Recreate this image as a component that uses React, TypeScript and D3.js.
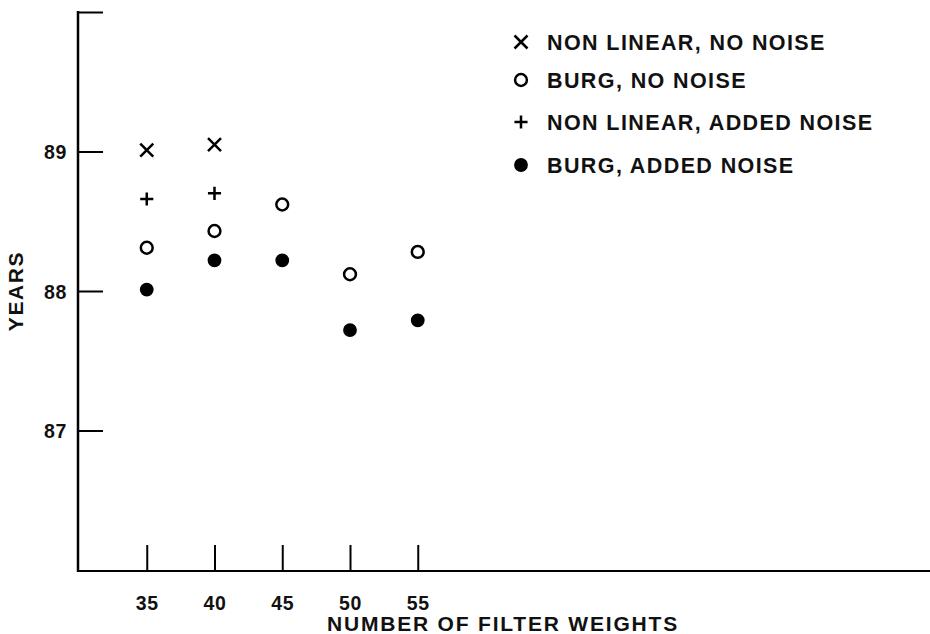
import React, { useEffect, useRef } from "react";
import * as d3 from "d3";

// filter weights on the x axis
const filterWeights = [35, 40, 45, 50, 55];
const xTickValues = [35, 40, 45, 50, 55];
const yTickValues = [87, 88, 89, 90];
const yTickLabels = ["87", "88", "89", ""];

// estimated years for each method (NON LINEAR only at 35 and 40)
const nonLinearNoNoise = [89.01, 89.05];
const burgNoNoise = [88.31, 88.43, 88.62, 88.12, 88.28];
const nonLinearAddedNoise = [88.66, 88.7];
const burgAddedNoise = [88.01, 88.22, 88.22, 87.72, 87.79];

const legendLabels = [
  "NON LINEAR, NO NOISE",
  "BURG, NO NOISE",
  "NON LINEAR, ADDED NOISE",
  "BURG, ADDED NOISE",
];

const width = 930;
const height = 634;
const font = "'Liberation Sans', Arial, Helvetica, sans-serif";

function App() {
  const ref = useRef<SVGSVGElement | null>(null);

  useEffect(() => {
    drawChart();
  });

  function drawChart() {
    const svg = d3.select(ref.current);
    svg.selectAll("*").remove();

    const x = d3.scaleLinear().domain([30, 60]).range([79, 485.5]);
    const y = d3.scaleLinear().domain([86, 90]).range([570, 12]);

    // symbols: x, open circle, plus, filled circle
    const symbols = [
      { type: d3.symbolTimes, size: 112, fill: "none", stroke: "#000" },
      { type: d3.symbolCircle, size: 110, fill: "none", stroke: "#000" },
      { type: d3.symbolPlus, size: 58, fill: "none", stroke: "#000" },
      { type: d3.symbolCircle, size: 150, fill: "#000", stroke: "none" },
    ];
    const series = [nonLinearNoNoise, burgNoNoise, nonLinearAddedNoise, burgAddedNoise];

    // y axis: ticks point inward (right), labels on the left
    const yAxis = d3
      .axisLeft(y)
      .tickValues(yTickValues)
      .tickFormat((_, i) => yTickLabels[i])
      .tickSizeInner(-25)
      .tickSizeOuter(0)
      .tickPadding(11);

    const gy = svg.append("g").attr("transform", `translate(${x(30) - 1},0)`).call(yAxis);
    gy.select(".domain").remove();
    gy.selectAll("line").attr("stroke", "#000").attr("stroke-width", 2);
    gy.selectAll("text")
      .attr("fill", "#111")
      .attr("dy", "0.36em")
      .style("font-family", font)
      .style("font-size", "19.5px")
      .style("font-weight", "bold")
      .style("letter-spacing", "0.6px");

    // x axis: ticks point upward
    const xAxis = d3
      .axisBottom(x)
      .tickValues(xTickValues)
      .tickSizeInner(-26)
      .tickSizeOuter(0)
      .tickPadding(27);

    const gx = svg.append("g").attr("transform", `translate(0,${y(86) + 1})`).call(xAxis);
    gx.select(".domain").remove();
    gx.selectAll("line").attr("stroke", "#000").attr("stroke-width", 2);
    gx.selectAll("text")
      .attr("fill", "#111")
      .attr("dy", null)
      .attr("y", 39)
      .style("font-family", font)
      .style("font-size", "19.5px")
      .style("font-weight", "bold")
      .style("letter-spacing", "0.6px");

    // axis lines
    svg
      .append("line")
      .attr("x1", x(30) - 1)
      .attr("x2", x(30) - 1)
      .attr("y1", y(90) - 1)
      .attr("y2", y(86) + 2)
      .attr("stroke", "#000")
      .attr("stroke-width", 2.5);
    svg
      .append("line")
      .attr("x1", x(30) - 2)
      .attr("x2", width)
      .attr("y1", y(86) + 1)
      .attr("y2", y(86) + 1)
      .attr("stroke", "#000")
      .attr("stroke-width", 2);

    // points
    series.forEach((vals, si) => {
      const s = symbols[si];
      svg
        .append("g")
        .selectAll("path")
        .data(vals)
        .enter()
        .append("path")
        .attr("transform", (d, i) => `translate(${x(filterWeights[i])},${y(d)})`)
        .attr("d", d3.symbol().type(s.type).size(s.size)())
        .attr("fill", s.fill)
        .attr("stroke", s.stroke)
        .attr("stroke-width", 2.5);
    });

    // legend
    const legendY = [42, 80, 122, 165];
    const legend = svg
      .append("g")
      .selectAll("g")
      .data(legendLabels)
      .enter()
      .append("g")
      .attr("transform", (_, i) => `translate(521,${legendY[i]})`);

    legend
      .append("path")
      .attr("d", (_, i) => d3.symbol().type(symbols[i].type).size(symbols[i].size)())
      .attr("fill", (_, i) => symbols[i].fill)
      .attr("stroke", (_, i) => symbols[i].stroke)
      .attr("stroke-width", 2.5);

    legend
      .append("text")
      .attr("x", 26)
      .attr("y", 8)
      .attr("fill", "#111")
      .style("font-family", font)
      .style("font-size", "21.5px")
      .style("font-weight", "bold")
      .style("letter-spacing", "1.4px")
      .text((d) => d);

    // axis titles
    svg
      .append("text")
      .attr("x", 503)
      .attr("y", 631)
      .attr("text-anchor", "middle")
      .attr("fill", "#111")
      .style("font-family", font)
      .style("font-size", "21px")
      .style("font-weight", "bold")
      .style("letter-spacing", "1.8px")
      .text("NUMBER OF FILTER WEIGHTS");

    svg
      .append("text")
      .attr("transform", `translate(23,${y(88)}) rotate(-90)`)
      .attr("text-anchor", "middle")
      .attr("fill", "#111")
      .style("font-family", font)
      .style("font-size", "21px")
      .style("font-weight", "bold")
      .style("letter-spacing", "1.6px")
      .text("YEARS");
  }

  return (
    <svg
      ref={ref}
      width={width}
      height={height}
      style={{ position: "absolute", left: 0, top: 0, background: "#fff" }}
    />
  );
}

export default App;
